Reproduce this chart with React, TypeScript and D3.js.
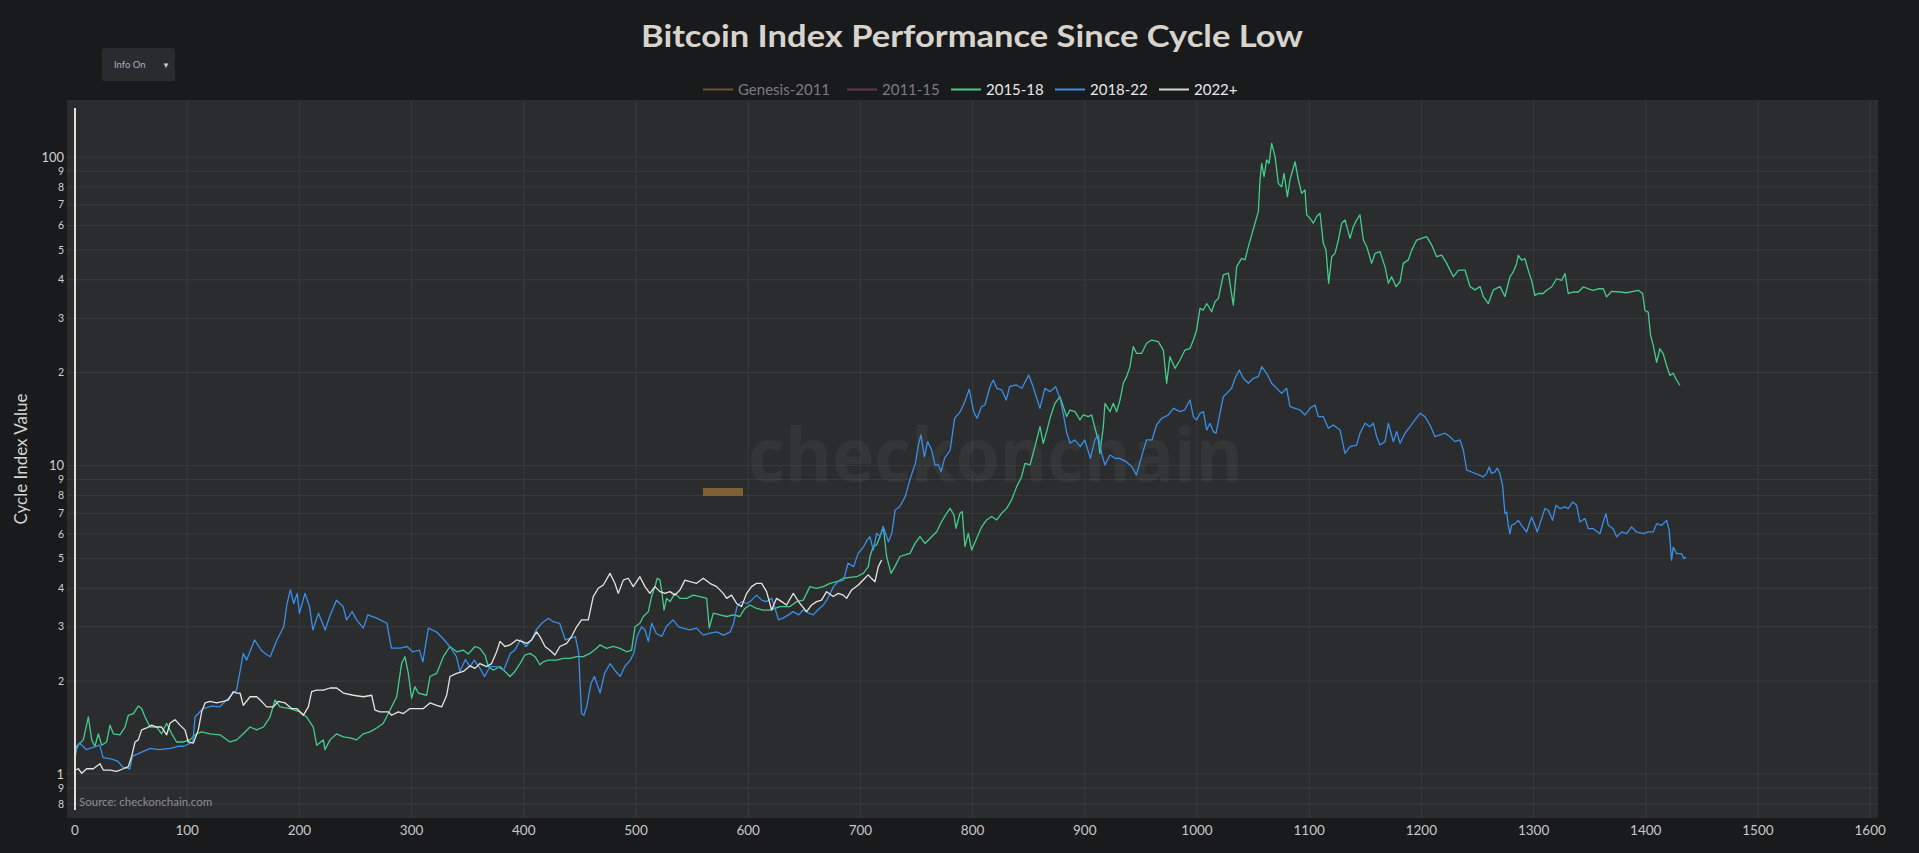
import React, { useEffect } from "react";
import * as d3 from "d3";

// ---------- DATA ----------
const LEGEND_NAMES = ["Genesis-2011", "2011-15", "2015-18", "2018-22", "2022+"];
const DAY_TICKS = [0, 100, 200, 300, 400, 500, 600, 700, 800, 900, 1000, 1100, 1200, 1300, 1400, 1500, 1600];
const Y_TICKS = [0.8, 0.9, 1, 2, 3, 4, 5, 6, 7, 8, 9, 10, 20, 30, 40, 50, 60, 70, 80, 90, 100];

// 2015-18 cycle: [day since cycle low, index value]
const cycle2015: [number, number][] = [
  [0, 1.11], [1.5, 1.23], [7.4, 1.29], [11.9, 1.53], [14.9, 1.29], [17.8, 1.23], [20.8, 1.35], [23.8, 1.24], [28.2, 1.27], [31.2, 1.44],
  [34.2, 1.35], [40.1, 1.34], [44.6, 1.42], [47.5, 1.55], [52, 1.57], [56.4, 1.66], [59.4, 1.63], [62.4, 1.53], [66.8, 1.42], [72.8, 1.42],
  [77.2, 1.35], [81.7, 1.46], [86.2, 1.35], [90.6, 1.27], [96.6, 1.27], [102.5, 1.29], [108.4, 1.35], [112.9, 1.37], [120.3, 1.35], [129.2, 1.34],
  [138.1, 1.27], [144.1, 1.29], [150, 1.35], [156, 1.42], [161.9, 1.39], [167.9, 1.42], [173.8, 1.53], [178.3, 1.74], [182.7, 1.65], [191.6, 1.63],
  [200.5, 1.59], [206.5, 1.53], [212.4, 1.42], [215.4, 1.24], [221.3, 1.29], [222.8, 1.2], [227.3, 1.29], [233.2, 1.35], [239.2, 1.32], [245.1, 1.31],
  [251, 1.29], [257, 1.35], [262.9, 1.37], [268.9, 1.41], [274.8, 1.46], [280.7, 1.61], [286.7, 1.78], [291.1, 2.28], [294.1, 2.4], [297.1, 2.12],
  [300, 1.76], [303, 1.92], [306, 1.83], [313.4, 1.8], [316.4, 2.07], [322.4, 2.12], [328.3, 2.4], [334.2, 2.59], [340.2, 2.49], [346.1, 2.52],
  [350.5, 2.45], [356.5, 2.59], [360.9, 2.555], [365.4, 2.43], [368.4, 2.23], [372.8, 2.17], [378.8, 2.23], [383.2, 2.15], [387.7, 2.07], [392.1, 2.15],
  [396.6, 2.28], [401, 2.43], [405.5, 2.46], [410, 2.4], [414.4, 2.26], [417.4, 2.31], [421.8, 2.34], [429.3, 2.34], [435.2, 2.37], [441.1, 2.37],
  [447.1, 2.4], [453, 2.4], [459, 2.46], [464.9, 2.555], [467.9, 2.62], [473.8, 2.555], [479.8, 2.59], [485.7, 2.555], [491.6, 2.49], [496.1, 2.52],
  [499.1, 3.0], [503.5, 3.08], [506.5, 3.24], [511, 3.36], [513.9, 3.76], [516.9, 4.05], [519, 4.31], [521.4, 4.25], [522.8, 3.95], [525, 3.4],
  [527.3, 3.71], [530.3, 3.62], [534.7, 3.85], [539.2, 3.71], [545.1, 3.71], [551.1, 3.8], [557, 3.76], [563, 3.71], [565.3, 2.97], [568.9, 3.32],
  [574.8, 3.28], [580.8, 3.24], [586.7, 3.28], [592.6, 3.24], [597.1, 3.44], [601.6, 3.53], [607.5, 3.44], [613.4, 3.4], [619.4, 3.4], [628.3, 3.49],
  [637.2, 3.49], [643.2, 3.62], [649.1, 3.66], [655, 4.05], [661, 4.0], [666.9, 4.05], [672.9, 4.15], [678.8, 4.2], [684.8, 4.31], [690.7, 4.34],
  [696.7, 4.36], [702.6, 4.47], [707.1, 4.7], [708.5, 5.07], [711.5, 5.46], [714.5, 5.53], [717.5, 5.88], [720.4, 6.33], [723.4, 5.07], [727.3, 4.47],
  [730.8, 4.7], [735.3, 5.07], [739.7, 5.13], [744.2, 5.19], [748.7, 5.59], [753.1, 5.88], [757.6, 5.59], [762, 5.8], [768, 6.1], [772.4, 6.58],
  [776.9, 7.0], [779.9, 7.26], [783.4, 6.91], [785.2, 6.26], [788.8, 7.0], [790.8, 7.09], [793.2, 5.46], [796.2, 6.03], [799.2, 5.32], [803.6, 5.8],
  [808.1, 6.33], [812.5, 6.66], [817, 6.83], [821.5, 6.66], [825.9, 7.0], [830.4, 7.26], [834.8, 7.73], [839.3, 8.54], [843.7, 9.2], [846.7, 10.16],
  [851.2, 10.04], [855.6, 11.51], [860.1, 13.36], [863, 11.8], [866, 12.88], [869, 14.22], [873.4, 15.9], [877.9, 16.71], [880.9, 15.51], [883.8, 14.4],
  [886.8, 15.13], [891.3, 14.94], [895.7, 14.05], [898.7, 14.58], [903.1, 14.4], [906.1, 14.58], [909.1, 13.2], [912.1, 12.1], [913.5, 10.95], [916.5, 13.36],
  [918, 15.9], [922.5, 14.94], [925.4, 15.9], [928.4, 14.94], [931.4, 16.3], [934.3, 18.47], [937.3, 19.41], [940.3, 20.9], [943.2, 24.28], [946.2, 23.1],
  [950.7, 23.1], [955.1, 24.9], [959.6, 25.5], [965.5, 25.2], [970, 23.67], [973, 18.47], [975.9, 22.53], [980.4, 20.65], [984.9, 21.98], [989.3, 23.67],
  [993.8, 23.98], [996.8, 25.5], [999.7, 27.5], [1002.7, 32.3], [1005.7, 31.9], [1008.7, 33.5], [1013.1, 31.5], [1016.1, 33.96], [1019.1, 34.8], [1023.5, 41.5],
  [1028, 42.0], [1032.4, 33.1], [1035.4, 44.1], [1039.8, 46.9], [1042.8, 46.4], [1045.8, 51.2], [1048.8, 55.9], [1051.7, 61.0], [1054.7, 66.5], [1056.2, 84.2],
  [1057.7, 95.4], [1059.8, 86.4], [1062.1, 97.8], [1064.2, 95.4], [1066.6, 110.7], [1069.6, 100.3], [1072.5, 82.1], [1075.5, 80.1], [1077.6, 88.5], [1080.6, 74.4],
  [1082.9, 84.2], [1087.4, 96.6], [1090.4, 84.2], [1093.3, 76.2], [1096.3, 78.2], [1097.8, 64.9], [1100.8, 63.3], [1103.7, 61.0], [1106.7, 64.1], [1109.7, 65.7],
  [1112.6, 52.5], [1115, 49.9], [1117.4, 38.96], [1120.1, 47.5], [1123, 48.7], [1126, 53.8], [1129, 61.0], [1132, 62.5], [1136.4, 54.5], [1139.4, 59.5],
  [1142.3, 62.5], [1145.3, 64.9], [1148.3, 53.8], [1151.3, 51.2], [1155.7, 45.2], [1158.7, 48.7], [1163.1, 49.3], [1167.6, 44.1], [1170.6, 38.96], [1173.5, 40.9],
  [1177.4, 37.99], [1181, 39.4], [1183.9, 45.2], [1188.4, 46.4], [1191.4, 49.9], [1195.8, 53.8], [1200.3, 54.5], [1204.7, 55.2], [1209.2, 51.8], [1213.6, 47.5],
  [1218.1, 48.1], [1222.6, 45.2], [1228.5, 40.9], [1233, 43.0], [1238.9, 43.0], [1243.4, 37.99], [1247.8, 37.1], [1252.3, 37.99], [1255.2, 35.3], [1259.7, 33.5],
  [1264.2, 37.1], [1270.1, 37.99], [1274.5, 35.3], [1279, 40.9], [1281.9, 42.4], [1284.9, 45.1], [1286.4, 48.0], [1289.3, 46.3], [1292.3, 46.8], [1295.3, 42.9],
  [1298.2, 39.8], [1301.2, 35.6], [1304.2, 36.1], [1308.6, 36.1], [1311.6, 36.98], [1316.1, 37.9], [1320.5, 40.3], [1325, 39.8], [1328, 41.9], [1330.9, 36.1],
  [1335.4, 36.5], [1339.8, 36.5], [1344.3, 37.9], [1348.8, 37.4], [1353.2, 36.98], [1357.7, 37.4], [1362.1, 37.4], [1365.1, 35.2], [1369.6, 36.7], [1377, 36.5],
  [1382.9, 36.3], [1388.9, 36.7], [1393.3, 36.98], [1397.2, 36.1], [1399.3, 31.8], [1402.2, 31.4], [1404.3, 26.4], [1406.7, 24.5], [1409.7, 21.6], [1412.6, 23.9],
  [1415.6, 23.0], [1418.6, 21.1], [1421.5, 19.6], [1424.5, 19.9], [1427.5, 18.9], [1430.4, 18.2],
];

// 2018-22 cycle
const cycle2018: [number, number][] = [
  [0, 1.17], [4, 1.26], [10, 1.2], [16, 1.22], [22, 1.24], [25, 1.13], [32, 1.12], [38, 1.1], [43, 1.05], [49, 1.04],
  [51, 1.14], [58, 1.17], [67, 1.21], [75, 1.2], [85, 1.21], [92, 1.23], [97, 1.23], [105, 1.27], [107, 1.53], [114, 1.63],
  [122, 1.66], [129, 1.65], [138, 1.78], [144, 1.87], [150, 2.46], [153, 2.34], [160, 2.72], [166, 2.52], [170, 2.45], [174, 2.4],
  [180, 2.72], [186, 3.0], [189, 3.57], [192, 3.95], [195, 3.57], [198, 3.85], [200, 3.32], [205, 3.85], [209, 3.49], [212, 2.93],
  [217, 3.32], [223, 2.93], [227, 3.24], [233, 3.66], [239, 3.49], [242, 3.16], [247, 3.36], [251, 3.16], [257, 2.97], [261, 3.28],
  [269, 3.2], [278, 3.08], [282, 2.56], [290, 2.56], [296, 2.59], [301, 2.49], [307, 2.52], [310, 2.31], [315, 2.97], [322, 2.89],
  [328, 2.75], [334, 2.59], [340, 2.4], [343, 2.15], [348, 2.35], [352, 2.23], [356, 2.34], [361, 2.2], [365, 2.07], [370, 2.23],
  [376, 2.23], [382, 2.17], [388, 2.46], [392, 2.52], [397, 2.72], [402, 2.59], [407, 2.72], [411, 2.93], [416, 3.08], [422, 3.2],
  [426, 3.12], [432, 3.08], [437, 2.72], [441, 2.75], [446, 2.79], [449, 2.46], [450, 2.02], [451.5, 1.57], [453.6, 1.55], [456, 1.65],
  [460, 1.97], [463, 2.07], [468, 1.83], [472, 2.12], [477, 2.28], [481, 2.17], [486, 2.07], [490, 2.23], [495, 2.34], [498, 2.46],
  [501, 2.79], [505, 3.0], [508, 2.93], [511, 2.69], [514, 3.08], [518, 2.86], [523, 2.79], [527, 3.0], [533, 3.16], [538, 3.0],
  [542, 2.97], [548, 2.93], [554, 2.97], [560, 2.82], [566, 2.86], [572, 2.89], [578, 2.82], [584, 2.89], [587, 3.08], [590, 3.49],
  [594, 3.62], [599, 3.57], [603, 3.66], [607.5, 3.8], [612, 3.66], [616, 3.62], [621, 3.71], [624, 3.44], [627, 3.16], [631, 3.2],
  [636, 3.28], [640, 3.36], [645, 3.28], [649, 3.4], [654, 3.32], [658, 3.28], [662, 3.4], [667, 3.53], [671, 3.71], [676, 4.05],
  [680, 4.2], [685, 4.25], [689, 4.82], [694, 4.7], [698, 5.19], [703, 5.46], [706, 5.73], [708.5, 5.88], [711.5, 5.32], [714.5, 6.03],
  [717.5, 5.88], [720.4, 6.33], [725, 5.66], [728, 6.03], [731, 7.17], [735, 7.35], [740, 7.93], [744, 8.97], [749, 10.16], [752, 11.8],
  [754, 12.56], [757, 10.68], [760, 11.95], [763.5, 11.22], [766.5, 10.04], [769.5, 10.04], [772, 9.55], [775, 10.55], [780, 11.22], [784, 14.22],
  [789, 14.94], [793, 16.1], [797, 17.66], [801, 14.94], [804, 14.22], [808, 15.51], [811, 15.71], [815.5, 18.0], [818.5, 18.93], [821.5, 17.79],
  [826, 17.57], [830, 16.3], [833, 18.0], [839, 18.24], [844, 17.79], [850, 19.65], [854, 18.0], [860, 15.32], [864.5, 17.79], [869, 17.35],
  [874, 18.0], [878, 16.5], [881, 14.58], [884, 12.72], [887, 11.8], [891, 12.1], [896, 11.51], [900, 12.1], [905, 10.55], [909, 12.1],
  [912, 12.56], [915, 10.95], [918, 10.04], [922.5, 10.81], [927, 10.55], [931, 10.55], [937, 10.29], [942, 9.91], [946, 9.32], [951, 10.81],
  [955, 12.1], [960, 12.1], [964, 13.53], [968.5, 14.22], [974.5, 14.58], [979, 15.32], [985, 14.94], [989, 15.13], [993.8, 16.3], [996.8, 14.4],
  [999.7, 14.05], [1002.7, 14.76], [1005.7, 14.94], [1008.7, 13.04], [1011.6, 13.7], [1014.6, 12.88], [1017, 12.72], [1020.5, 14.76], [1023.5, 16.71], [1026.5, 17.13],
  [1030.9, 17.79], [1033.9, 19.17], [1037.8, 20.4], [1041.3, 19.17], [1045.8, 18.47], [1050.2, 19.17], [1054.7, 19.41], [1057.7, 20.9], [1062.1, 19.9], [1066.6, 18.47],
  [1071, 17.79], [1075.5, 17.13], [1079.9, 17.79], [1082.9, 15.51], [1087.4, 15.32], [1091.8, 15.13], [1096.3, 14.58], [1100.8, 15.32], [1105.2, 15.71], [1108.2, 14.4],
  [1112.6, 14.4], [1117.1, 13.2], [1121.5, 13.53], [1127.5, 13.04], [1131.9, 10.95], [1136.4, 11.51], [1142.3, 11.65], [1145.3, 12.72], [1149.8, 13.7], [1154.2, 13.36],
  [1157.2, 13.7], [1160.2, 12.4], [1163.1, 11.65], [1167.6, 11.95], [1170.6, 13.7], [1175, 11.95], [1178, 12.88], [1181, 11.8], [1185.4, 12.72], [1189.9, 13.36],
  [1194.3, 14.05], [1198.8, 14.76], [1203.2, 14.4], [1207.7, 13.53], [1212.2, 12.4], [1216.6, 12.56], [1221.1, 12.72], [1225.5, 12.4], [1230, 11.95], [1234.4, 12.1],
  [1237.4, 11.22], [1240.4, 9.67], [1252.2, 9.29], [1255.2, 9.18], [1258.1, 9.41], [1260.5, 9.89], [1262.6, 9.41], [1265.6, 9.53], [1267.7, 9.81], [1270, 9.41],
  [1272.4, 8.62], [1274.5, 6.98], [1276, 7.07], [1277.5, 6.4], [1278.9, 6.01], [1280.4, 6.4], [1283.4, 6.48], [1286.4, 6.64], [1289.3, 6.4], [1293.8, 6.09],
  [1298.2, 6.81], [1301.2, 6.4], [1303.3, 6.09], [1305.7, 6.48], [1310.1, 7.25], [1313.1, 7.16], [1317, 6.64], [1319.9, 7.43], [1323.5, 7.25], [1328, 7.34],
  [1330.9, 7.25], [1334.8, 7.61], [1338.4, 7.43], [1341.3, 6.56], [1345.8, 6.73], [1348.8, 6.24], [1353.2, 6.24], [1359.2, 6.01], [1362.1, 6.56], [1364.5, 6.98],
  [1366.6, 6.4], [1371, 6.24], [1374, 5.87], [1378.5, 6.09], [1382.9, 6.01], [1387.4, 6.32], [1391.8, 6.09], [1397.8, 6.01], [1402.2, 6.09], [1406.7, 6.09],
  [1409.7, 6.48], [1414.1, 6.4], [1418.6, 6.64], [1420.9, 6.16], [1423, 4.93], [1424.5, 5.44], [1427.5, 5.18], [1431.9, 5.18], [1434, 4.99], [1435.8, 5.05],
];

// 2022+ cycle
const cycle2022: [number, number][] = [
  [0, 1.03], [3, 1.04], [6, 1.005], [10.4, 1.04], [16.3, 1.04], [22.3, 1.08], [25.2, 1.03], [31.2, 1.03], [37.1, 1.02], [43.1, 1.04],
  [47.5, 1.056], [50.5, 1.14], [53.5, 1.27], [56.4, 1.29], [59.4, 1.39], [63.9, 1.41], [68.3, 1.44], [72.8, 1.42], [77.2, 1.42], [81.7, 1.34],
  [84.7, 1.46], [89.1, 1.5], [93.6, 1.44], [98, 1.39], [101, 1.27], [105.5, 1.26], [109.9, 1.39], [112.9, 1.59], [115.9, 1.7], [120.3, 1.72],
  [126.3, 1.7], [132.2, 1.72], [136.7, 1.74], [141.1, 1.85], [144.1, 1.83], [147.1, 1.83], [150, 1.67], [156, 1.78], [161.9, 1.78], [164.9, 1.74],
  [170.8, 1.65], [176.8, 1.65], [181.2, 1.72], [187.2, 1.7], [193.1, 1.63], [197.6, 1.63], [203.5, 1.55], [208, 1.65], [210.9, 1.85], [215.4, 1.87],
  [221.3, 1.87], [227.3, 1.9], [233.2, 1.9], [239.2, 1.83], [248.1, 1.8], [257, 1.78], [264.4, 1.8], [267.4, 1.61], [271.8, 1.59], [279.3, 1.59],
  [282.2, 1.55], [288.2, 1.59], [292.6, 1.57], [298.6, 1.63], [304.5, 1.63], [310.5, 1.63], [316.4, 1.7], [322.4, 1.67], [326.8, 1.65], [331.3, 1.8],
  [334.2, 2.07], [340.2, 2.12], [346.1, 2.15], [352, 2.24], [356.5, 2.2], [360.9, 2.28], [366.9, 2.23], [371.3, 2.28], [375.8, 2.49], [378.8, 2.69],
  [383.2, 2.59], [387.7, 2.62], [393.6, 2.72], [398.1, 2.69], [402.5, 2.65], [407, 2.72], [411.4, 2.89], [414.4, 2.79], [418.9, 2.59], [423.3, 2.52],
  [427.8, 2.43], [432.2, 2.59], [438.2, 2.65], [442.6, 2.79], [447.1, 3.0], [451.5, 3.16], [457.5, 3.16], [461.9, 3.76], [466.4, 4.0], [470.9, 4.1],
  [476.8, 4.47], [481.2, 4.15], [484.2, 3.85], [488.7, 4.25], [493.1, 4.31], [497.6, 4.05], [503.5, 4.36], [508, 4.05], [512.4, 3.85], [516.9, 4.05],
  [521.4, 3.9], [525.8, 3.85], [530.3, 3.9], [534.7, 3.8], [539.2, 3.95], [543.6, 4.25], [548.1, 4.2], [554, 4.15], [560, 4.31], [565.9, 4.15],
  [571.9, 4.05], [577.8, 3.85], [580.8, 3.71], [585.2, 3.8], [589.7, 3.57], [594.1, 3.49], [598.6, 3.85], [603, 4.05], [607.5, 4.15], [612, 4.15],
  [616.4, 3.9], [620.9, 3.4], [625.3, 3.71], [629.8, 3.62], [634.2, 3.53], [640.2, 3.85], [646.1, 3.57], [652.1, 3.36], [656.5, 3.53], [661, 3.62],
  [665.4, 3.66], [669.9, 3.9], [675.8, 3.76], [680.3, 3.85], [684.8, 3.8], [687.7, 3.71], [692.2, 3.95], [698.1, 4.1], [704, 4.31], [707, 4.42],
  [710, 4.3], [713, 4.2], [716, 4.7], [719, 4.94],
];

const SERIES = [
  { name: "2015-18", data: cycle2015, color: "#45cc8c" },
  { name: "2018-22", data: cycle2018, color: "#3a8fe6" },
  { name: "2022+", data: cycle2022, color: "#e6e4e0" },
];

const LEGEND_COLORS = ["#6b5533", "#6a3446", "#45cc8c", "#3a8fe6", "#d8d6d2"];
const LEGEND_HIDDEN = [true, true, false, false, false];

// ---------- LAYOUT ----------
const W = 1919;
const H = 853;
const PLOT = { left: 67, right: 1878, top: 100, bottom: 818 };
const FONT = "Lato, 'Open Sans', 'Noto Sans', sans-serif";

export default function App() {
  useEffect(() => {
    document.body.style.margin = "0";
    document.body.style.background = "#191a1c";
  }, []);

  const x = d3.scaleLinear().domain([-7.13, 1607]).range([PLOT.left, PLOT.right]);
  const y = d3.scaleLog().domain([0.7201, 153.0]).range([PLOT.bottom, PLOT.top]);

  const line = d3
    .line<[number, number]>()
    .x((d) => x(d[0]))
    .y((d) => y(d[1]))
    .curve(d3.curveLinear);

  const isPow10 = (v: number) => Math.abs(Math.log10(v) - Math.round(Math.log10(v))) < 1e-9;
  const yLabel = (v: number) => (isPow10(v) ? String(v) : String(Math.round(v / Math.pow(10, Math.floor(Math.log10(v) + 1e-9)))));

  const legendX = [703, 847, 951, 1055, 1159];

  return (
    <div style={{ position: "absolute", left: 0, top: 0, width: W, height: H, background: "#191a1c" }}>
      <svg width={W} height={H} style={{ display: "block" }} fontFamily={FONT}>
        <rect x={0} y={0} width={W} height={H} fill="#191a1c" />
        {/* Plot background */}
        <rect x={PLOT.left} y={PLOT.top} width={PLOT.right - PLOT.left} height={PLOT.bottom - PLOT.top} fill="#2b2c2e" />

        {/* Grid */}
        <g>
          {Y_TICKS.map((t) => (
            <line key={"gy" + t} x1={PLOT.left} x2={PLOT.right} y1={y(t)} y2={y(t)} stroke="#3a3b3e" strokeWidth={1} />
          ))}
          {DAY_TICKS.filter((t) => t > 0).map((t) => (
            <line key={"gx" + t} x1={x(t)} x2={x(t)} y1={PLOT.top} y2={PLOT.bottom} stroke="#3a3b3e" strokeWidth={1} />
          ))}
        </g>

        {/* Watermark */}
        <g>
          <rect x={703} y={488} width={40} height={8} fill="#8c6a34" opacity={0.85} />
          <text x={748} y={482} fontSize={76} fontWeight={700} fill="#ffffff" fillOpacity={0.045} textLength={495} lengthAdjust="spacingAndGlyphs" fontFamily="'Open Sans', Lato, sans-serif">
            checkonchain
          </text>
        </g>

        {/* Series */}
        <g>
          {SERIES.map((s) => (
            <path key={s.name} d={line(s.data) || ""} fill="none" stroke={s.color} strokeWidth={1.3} strokeLinejoin="round" />
          ))}
        </g>

        {/* Y axis line */}
        <line x1={x(0)} x2={x(0)} y1={108} y2={810} stroke="#e4e0d8" strokeWidth={2} />

        {/* Y tick labels */}
        <g>
          {Y_TICKS.map((t) => (
            <text
              key={"yl" + t}
              x={64}
              y={y(t)}
              dy="0.35em"
              textAnchor="end"
              fontSize={isPow10(t) ? 13 : 10.5}
              fill="#d0d0d0"
            >
              {yLabel(t)}
            </text>
          ))}
        </g>

        {/* X tick labels */}
        <g>
          {DAY_TICKS.map((t) => (
            <text key={"xl" + t} x={x(t)} y={835} textAnchor="middle" fontSize={13.5} fill="#c8c8c8">
              {t}
            </text>
          ))}
        </g>

        {/* Axis title */}
        <text transform="translate(21,459) rotate(-90)" textAnchor="middle" dy="0.35em" fontSize={17} fill="#d4d4d4">
          Cycle Index Value
        </text>

        {/* Source */}
        <text x={79} y={806} fontSize={11.5} fill="#8e8e8e">
          Source: checkonchain.com
        </text>

        {/* Title */}
        <text x={972} y={47} textAnchor="middle" fontSize={30} fontWeight={700} fill="#d8d3cc" textLength={662} lengthAdjust="spacingAndGlyphs">
          Bitcoin Index Performance Since Cycle Low
        </text>

        {/* Legend */}
        <g>
          {LEGEND_NAMES.map((n, i) => (
            <g key={n} opacity={1}>
              <line x1={legendX[i]} x2={legendX[i] + 30} y1={89.5} y2={89.5} stroke={LEGEND_COLORS[i]} strokeWidth={2} />
              <text x={legendX[i] + 35} y={89.5} dy="0.35em" fontSize={15} fill={LEGEND_HIDDEN[i] ? "#7c7c7c" : "#e8e8e8"}>
                {n}
              </text>
            </g>
          ))}
        </g>

        {/* Info On dropdown */}
        <g>
          <rect x={102} y={48} width={73} height={33} rx={2} fill="#2a2b2e" />
          <text x={114} y={65} dy="0.35em" fontSize={9.5} fill="#a9aebb">
            Info On
          </text>
          <text x={166} y={65} dy="0.35em" fontSize={8} fill="#c8c8c8" textAnchor="middle">
            ▼
          </text>
        </g>
      </svg>
    </div>
  );
}
